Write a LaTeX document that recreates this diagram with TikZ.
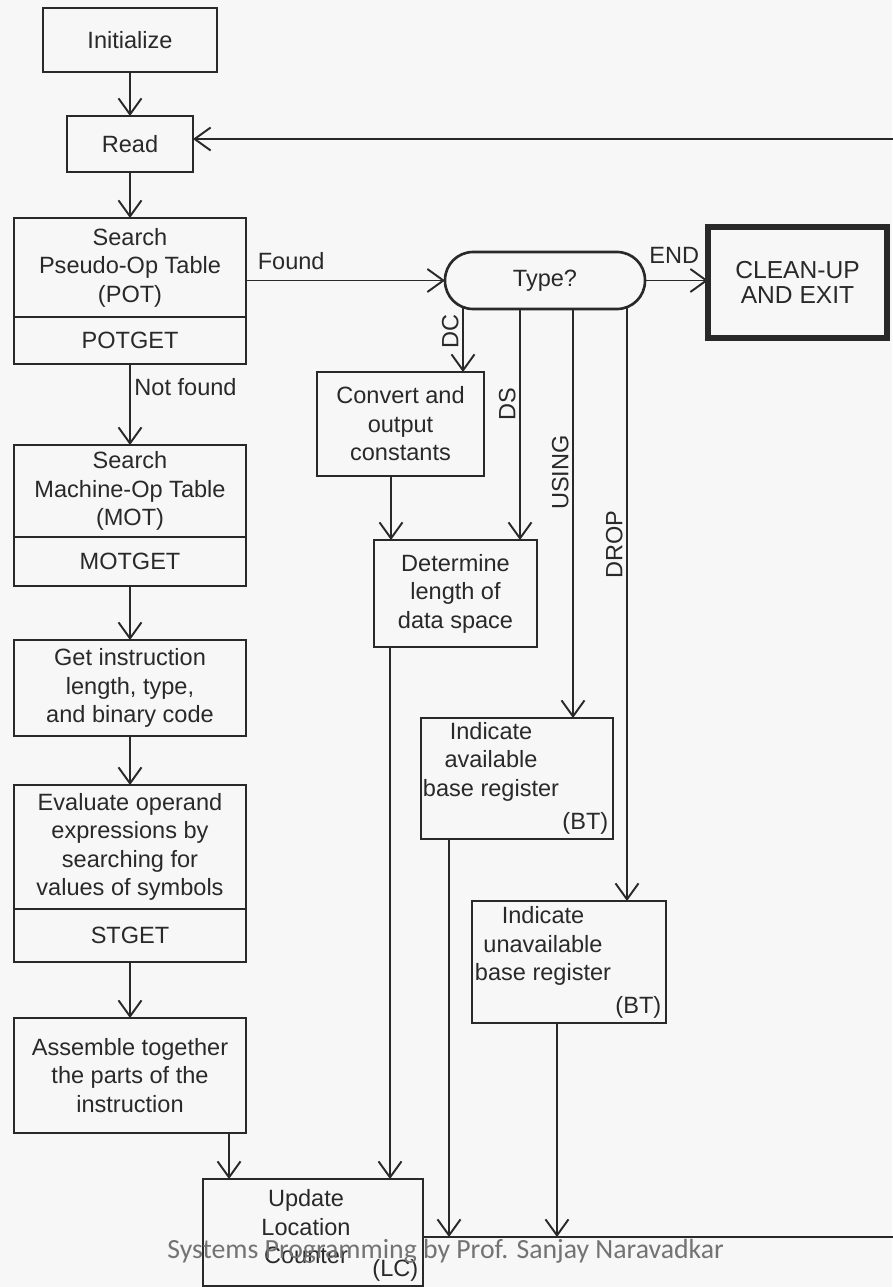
\documentclass[tikz,border=0pt]{standalone}
\usepackage{fontspec}
\setmainfont{Liberation Sans}
\newfontfamily\wmfont{Carlito}
\usetikzlibrary{arrows.meta,calc}
\definecolor{ink}{gray}{0.16}
\definecolor{paper}{gray}{0.97}

\begin{document}
\begin{tikzpicture}[
  x=0.02cm, y=-0.02cm,
  font=\fontsize{13.4}{16.2}\selectfont,
  blk/.style={draw=ink, line width=1.5pt, align=center, inner sep=0pt, outer sep=0pt,
    text=ink, minimum width=4.64cm},
  term/.style={blk, rounded corners=0.56cm, minimum width=4cm, minimum height=1.14cm},
  flow/.style={draw=ink, line width=1.1pt, -{Straight Barb[length=3.2mm,width=4.6mm]}},
  lbl/.style={text=ink, align=center, inner sep=2pt},
  tag/.style={text=ink, inner xsep=2.5pt, inner ysep=2.5pt},
  wmark/.style={text=black!55, inner sep=0pt, font=\wmfont\fontsize{15.8}{18}\selectfont},
]
\path[use as bounding box, fill=paper] (0,0) rectangle (892,1287);

% ---------------- main column ----------------
\node[blk, minimum width=3.48cm, minimum height=1.28cm] (init) at (130,40) {Initialize};
\node[blk, minimum width=2.52cm, minimum height=1.12cm] (read) at (130,144) {Read};
\node[blk, minimum height=1.98cm] (pot) at (130,267.5) {Search\\Pseudo-Op Table\\(POT)};
\node[blk, minimum height=0.94cm, anchor=north] (potget) at (pot.south) {POTGET};
\node[blk, minimum height=1.84cm] (mot) at (130,491) {Search\\Machine-Op Table\\(MOT)};
\node[blk, minimum height=0.98cm, anchor=north] (motget) at (mot.south) {MOTGET};
\node[blk, minimum height=1.92cm] (get) at (130,688) {Get instruction\\length, type,\\and binary code};
\node[blk, minimum height=2.48cm] (eval) at (130,847) {Evaluate operand\\expressions by\\searching for\\values of symbols};
\node[blk, minimum height=1.06cm, anchor=north] (stget) at (eval.south) {STGET};
\node[blk, minimum height=2.3cm] (asm) at (130,1075.5) {Assemble together\\the parts of the\\instruction};

\draw[flow] (init.south) -- (read.north);
\draw[flow] (read.south) -- (pot.north);
\draw[flow] (potget.south) -- (mot.north)
  node[lbl, anchor=west, pos=0.28] (notfound) {Not found};
\draw[flow] (motget.south) -- (get.north);
\draw[flow] (get.south) -- (eval.north);
\draw[flow] (stget.south) -- (asm.north);

% ---------------- pseudo-op branch ----------------
\node[term] (type) at (545,280.5) {Type?};
\node[blk, line width=3.4pt, minimum width=3.58cm, minimum height=2.22cm,
  font=\fontsize{14}{14.5}\selectfont] (clean) at (797.5,282.5) {CLEAN-UP\\AND EXIT};
\node[blk, minimum width=3.34cm, minimum height=2.08cm] (conv) at (400.5,424) {Convert and\\output\\constants};
\node[blk, minimum width=3.26cm, minimum height=2.14cm] (det) at (455.5,593.5) {Determine\\length of\\data space};

\node[blk, minimum width=3.84cm, minimum height=2.42cm] (avail) at (517,778.5) {};
\node[lbl] (availtxt) at ($(avail)+(-26,-17)$) {Indicate\\available\\base register};
\node[tag, anchor=south east] (availbt) at (avail.south east) {(BT)};

\node[blk, minimum width=3.88cm, minimum height=2.44cm] (unav) at (569,962) {};
\node[lbl] (unavtxt) at ($(unav)+(-26,-16)$) {Indicate\\unavailable\\base register};
\node[tag, anchor=south east] (unavbt) at (unav.south east) {(BT)};

\node[blk, minimum width=4.4cm, minimum height=2.14cm] (upd) at (313,1232.5) {};
\node[lbl] (updtxt) at ($(upd)+(-7,-5.5)$) {Update\\Location\\Counter};
\node[tag, anchor=south east] (updlc) at (upd.south east) {(LC)};

\draw[flow] (pot.east |- type.west) -- (type.west)
  node[lbl, anchor=south west, pos=0, xshift=4.2pt, yshift=3.4pt] (found) {Found};
\draw[flow] (type.east) -- (type.east -| clean.west)
  node[lbl, anchor=south west, pos=0, yshift=7.4pt] (endlbl) {END};

% branches out of Type?
\draw[flow] ($(type.south)+(-82,-2)$) coordinate (dc0) -- (dc0 |- conv.north)
  node[lbl, rotate=90, anchor=south, pos=0.38] (dclbl) {DC};
\draw[flow] ($(type.south)+(-25,0)$) coordinate (ds0) -- (ds0 |- det.north)
  node[lbl, rotate=90, anchor=south, pos=0.41] (dslbl) {DS};
\draw[flow] ($(type.south)+(28,0)$) coordinate (us0) -- (us0 |- avail.north)
  node[lbl, rotate=90, anchor=south, pos=0.40] (uslbl) {USING};
\draw[flow] ($(type.south)+(82,-2)$) coordinate (dr0) -- (dr0 |- unav.north)
  node[lbl, rotate=90, anchor=south, pos=0.40] (drlbl) {DROP};

\draw[flow] ($(conv.south)+(-9.5,0)$) coordinate (c1) -- (c1 |- det.north);
\draw[flow] ($(det.south)+(-65.5,0)$) coordinate (d1) -- (d1 |- upd.north);
\coordinate (a1) at ($(upd.north west)+(26,0)$);
\draw[flow] (a1 |- asm.south) -- (a1);

% ---------------- return to Read ----------------
\coordinate (ret) at ($(upd.east)+(0,4.5)$);
\draw[flow] ($(avail.south west)+(28,0)$) coordinate (a2) -- (a2 |- ret);
\draw[flow] ($(unav.south)+(-12,0)$) coordinate (u2) -- (u2 |- ret);
\draw[flow] (ret) -- ++(520,0) |- ($(read.east)+(0,-5)$);

\node[wmark, anchor=base west] (wm) at (167,1258) {Systems Programming by Prof. Sanjay Naravadkar};

\end{tikzpicture}
\end{document}
